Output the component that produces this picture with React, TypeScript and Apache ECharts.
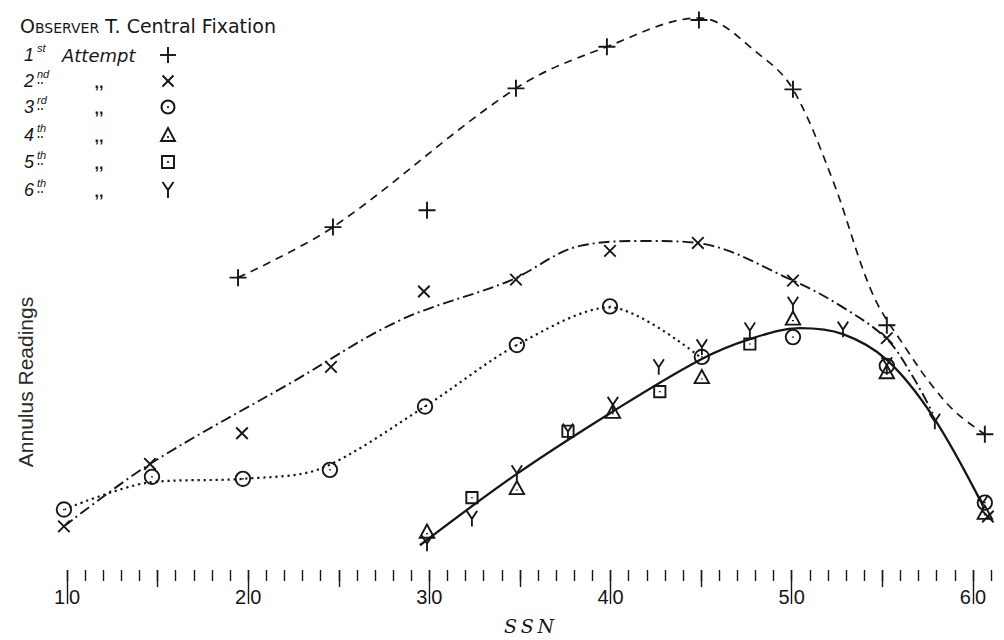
import { useEffect, useRef } from 'react';
import * as echarts from 'echarts';

const INK = '#161616';

// Axis values
const ssnMin = 10;
const ssnMax = 61;
const readingMin = 0;
const readingMax = 56;
const halfTicks = [15, 25, 35, 45, 55];
const decadeTicks = [10, 20, 30, 40, 50, 60];

// Plotted observations: [SSN, annulus reading]
const attempt1 = [[19.44, 29.5], [24.68, 34.6], [29.87, 36.3], [34.78, 48.6], [39.8, 52.8], [44.88, 55.5], [50.07, 48.5], [55.25, 24.7], [60.66, 13.7]];
const attempt2 = [[9.83, 4.4], [14.58, 10.7], [19.66, 13.8], [24.57, 20.5], [29.7, 28.1], [34.78, 29.3], [39.97, 32.2], [44.82, 33.0], [50.07, 29.2], [55.25, 23.4], [60.83, 5.4]];
const attempt3 = [[9.83, 6.1], [14.69, 9.4], [19.71, 9.2], [24.51, 10.1], [29.76, 16.5], [34.83, 22.7], [39.97, 26.6], [45.04, 21.5], [50.07, 23.5], [55.25, 20.6], [60.66, 6.8]];
const attempt4 = [[29.87, 3.9], [34.83, 8.3], [40.13, 16.0], [45.04, 19.5], [50.07, 25.4], [55.25, 20.0], [60.66, 5.8]];
const attempt5 = [[32.35, 7.3], [37.65, 14.0], [42.72, 18.0], [47.69, 22.8]];
const attempt6 = [[29.87, 2.7], [32.35, 5.2], [34.83, 9.8], [37.65, 14.0], [40.13, 16.7], [42.66, 20.5], [45.04, 22.5], [47.69, 24.2], [50.07, 26.8], [52.83, 24.3], [55.25, 20.7], [57.9, 15.0], [60.55, 6.8]];

// Hand-fitted curves drawn through the observations
const curve1 = [[19.44, 29.5], [24.68, 34.6], [34.78, 48.6], [39.8, 52.8], [44.88, 55.7], [48.36, 51.8], [50.07, 48.5], [52.27, 39.3], [54.48, 27.8], [56.36, 22.2], [57.79, 18.5], [59.12, 15.8], [60.66, 13.7]];
const curve2 = [[9.83, 4.4], [14.58, 10.7], [22.47, 19.0], [28.38, 25.2], [34.45, 29.2], [38.31, 32.7], [42.01, 33.2], [44.77, 33.0], [50.07, 29.2], [52.83, 26.5], [55.25, 23.3], [56.69, 19.5], [57.79, 15.8]];
const curve3 = [[9.83, 6.1], [14.42, 8.8], [19.71, 9.2], [23.96, 10.2], [29.76, 16.5], [34.83, 22.7], [39.97, 26.5], [44.93, 21.5]];
const curve6 = [[29.48, 2.5], [34.83, 9.7], [40.13, 16.0], [44.93, 21.2], [47.69, 23.3], [50.45, 24.4], [52.83, 23.8], [55.25, 21.2], [57.79, 15.5], [60.55, 6.5]];

// Legend texts
const titleCaps = ['O', 'BSERVER'];
const titleRest = 'T. Central Fixation';
const ordinals = ['1', '2', '3', '4', '5', '6'];
const suffixes = ['st', 'nd', 'rd', 'th', 'th', 'th'];
const attemptWord = 'Attempt';
const ditto = ',,';
const yName = 'Annulus Readings';
const xName = 'S\u2009S\u2009N';

// Marker outlines in a -1..1 box (the leading moves fix the box)
const SYM: Record<string, string> = {
  plus: 'path://M-1,-1M1,1M0,-1L0,1M-1,0L1,0',
  cross: 'path://M-1,-1M1,1M-0.72,-0.72L0.72,0.72M0.72,-0.72L-0.72,0.72',
  ring: 'path://M-1,-1M1,1M-0.85,0A0.85,0.85,0,1,1,0.85,0A0.85,0.85,0,1,1,-0.85,0ZM0,-0.07L0,0.07',
  tri: 'path://M-1,-1M1,1M0,-0.85L0.9,0.8L-0.9,0.8ZM0,0.22L0,0.36',
  square: 'path://M-1,-1M1,1M-0.75,-0.75L0.75,-0.75L0.75,0.75L-0.75,0.75ZM0,-0.07L0,0.07',
  wye: 'path://M-1,-1M1,1M-0.7,-0.95L0,0.05L0.7,-0.95M0,0.05L0,1',
};

function curveSeries(name: string, data: number[][], type: any, width: number, smooth: number) {
  return {
    type: 'line',
    name,
    data,
    symbol: 'none',
    showSymbol: false,
    smooth,
    silent: true,
    clip: false,
    z: 2,
    lineStyle: { color: INK, width, type, cap: 'butt' },
  };
}

function markSeries(name: string, data: number[][], symbol: string, size: number[]) {
  return {
    type: 'scatter',
    name,
    data,
    symbol,
    symbolSize: size,
    silent: true,
    clip: false,
    z: 5,
    itemStyle: { color: 'rgba(0,0,0,0)', borderColor: INK, borderWidth: 1.9, opacity: 1 },
  };
}

function legendMark(kind: string, cx: number, cy: number): any[] {
  const st = { stroke: INK, lineWidth: 1.9, fill: 'none' };
  const dot = (x: number, y: number) => ({ type: 'circle', shape: { cx: x, cy: y, r: 1.1 }, style: { fill: INK } });
  switch (kind) {
    case 'plus':
      return [
        { type: 'line', shape: { x1: cx - 8, y1: cy, x2: cx + 8, y2: cy }, style: st },
        { type: 'line', shape: { x1: cx, y1: cy - 8, x2: cx, y2: cy + 8 }, style: st },
      ];
    case 'cross':
      return [
        { type: 'line', shape: { x1: cx - 5.5, y1: cy - 5.5, x2: cx + 5.5, y2: cy + 5.5 }, style: st },
        { type: 'line', shape: { x1: cx + 5.5, y1: cy - 5.5, x2: cx - 5.5, y2: cy + 5.5 }, style: st },
      ];
    case 'ring':
      return [{ type: 'circle', shape: { cx, cy, r: 6.5 }, style: st }, dot(cx, cy)];
    case 'tri':
      return [
        { type: 'polygon', shape: { points: [[cx, cy - 7], [cx + 7, cy + 6], [cx - 7, cy + 6]] }, style: st },
        dot(cx, cy + 2),
      ];
    case 'square':
      return [{ type: 'rect', shape: { x: cx - 6, y: cy - 6, width: 12, height: 12 }, style: st }, dot(cx, cy)];
    default:
      return [
        { type: 'polyline', shape: { points: [[cx - 5.5, cy - 8], [cx, cy], [cx + 5.5, cy - 8]] }, style: st },
        { type: 'line', shape: { x1: cx, y1: cy, x2: cx, y2: cy + 8 }, style: st },
      ];
  }
}

export default function App() {
  const ref = useRef<HTMLDivElement>(null);

  useEffect(() => {
    if (!ref.current) return;
    const chart = echarts.init(ref.current, null, { renderer: 'svg' });

    const kinds = ['plus', 'cross', 'ring', 'tri', 'square', 'wye'];
    const rowY = [55, 81, 107, 135, 162, 190];
    const legend: any[] = [];

    legend.push({
      type: 'text',
      x: 20,
      y: 25,
      style: {
        text: `{o|${titleCaps[0]}}{sc|${titleCaps[1]}}{t| ${titleRest}}`,
        verticalAlign: 'middle',
        align: 'left',
        fill: INK,
        rich: {
          o: { fontFamily: 'DejaVu Sans', fontSize: 19, lineHeight: 20, verticalAlign: 'bottom', fill: INK },
          sc: { fontFamily: 'DejaVu Sans', fontSize: 14, lineHeight: 20, verticalAlign: 'bottom', fill: INK },
          t: { fontFamily: 'DejaVu Sans', fontSize: 19, lineHeight: 20, verticalAlign: 'bottom', fill: INK },
        },
      },
    });

    ordinals.forEach((n, i) => {
      const y = rowY[i];
      legend.push({
        type: 'text', x: 24, y,
        style: { text: n, fontFamily: 'Liberation Sans', fontStyle: 'italic', fontSize: 18, fill: INK, align: 'left', verticalAlign: 'middle' },
      });
      legend.push({
        type: 'text', x: 37, y: y - 7,
        style: { text: suffixes[i], fontFamily: 'Liberation Sans', fontStyle: 'italic', fontSize: 11, fill: INK, align: 'left', verticalAlign: 'middle' },
      });
      if (i > 0) {
        // two small dots beneath the raised suffix
        legend.push({ type: 'circle', shape: { cx: 38.5, cy: y + 2, r: 0.9 }, style: { fill: INK } });
        legend.push({ type: 'circle', shape: { cx: 42, cy: y + 2, r: 0.9 }, style: { fill: INK } });
        legend.push({
          type: 'text', x: 99, y: y + 1,
          style: { text: ditto, fontFamily: 'Liberation Sans', fontWeight: 'bold', fontSize: 16, fill: INK, align: 'center', verticalAlign: 'middle' },
        });
      } else {
        legend.push({
          type: 'text', x: 62, y,
          style: { text: attemptWord, fontFamily: 'DejaVu Sans', fontStyle: 'italic', fontSize: 18, fill: INK, align: 'left', verticalAlign: 'middle' },
        });
      }
      legend.push(...legendMark(kinds[i], 168, y));
    });

    legend.push({
      type: 'text',
      x: 25,
      y: 382,
      rotation: Math.PI / 2,
      style: { text: yName, fontFamily: 'Liberation Sans', fontSize: 21, fill: '#2a2a2a', align: 'center', verticalAlign: 'middle' },
    });

    const baseX = {
      type: 'value',
      min: ssnMin,
      max: ssnMax,
      position: 'bottom',
      axisLine: { show: false },
      splitLine: { show: false },
    };

    chart.setOption({
      animation: false,
      backgroundColor: '#ffffff',
      grid: { left: 67, right: 13, top: 15, bottom: 65, containLabel: false },
      xAxis: [
        {
          ...baseX,
          interval: 1,
          axisTick: { show: true, length: 11, lineStyle: { color: INK, width: 1.4 } },
          axisLabel: { show: false },
        },
        {
          ...baseX,
          axisTick: { show: true, length: 17, customValues: halfTicks, lineStyle: { color: INK, width: 1.4 } },
          axisLabel: { show: false },
        },
        {
          ...baseX,
          axisTick: { show: true, length: 34, customValues: decadeTicks, lineStyle: { color: INK, width: 1.4 } },
          axisLabel: {
            show: true,
            customValues: decadeTicks,
            formatter: (v: number) => String(v).split('').join('\u2009'),
            margin: 17,
            fontFamily: 'Liberation Sans',
            fontSize: 20,
            color: INK,
          },
          name: xName,
          nameLocation: 'middle',
          nameGap: 46,
          nameTextStyle: { fontFamily: 'DejaVu Serif', fontStyle: 'italic', fontSize: 19, color: INK },
        },
      ],
      yAxis: { type: 'value', min: readingMin, max: readingMax, show: false },
      graphic: legend,
      series: [
        curveSeries('1st curve', curve1, [8, 6], 1.7, 0.35),
        curveSeries('2nd curve', curve2, [11, 4, 2, 4], 1.9, 0.35),
        curveSeries('3rd curve', curve3, [2.2, 3.8], 2.2, 0.3),
        curveSeries('6th curve', curve6, 'solid', 2.3, 0.35),
        markSeries('1st Attempt', attempt1, SYM.plus, [17, 17]),
        markSeries('2nd', attempt2, SYM.cross, [16, 16]),
        markSeries('3rd', attempt3, SYM.ring, [17, 17]),
        markSeries('4th', attempt4, SYM.tri, [16, 16]),
        markSeries('5th', attempt5, SYM.square, [15, 15]),
        markSeries('6th', attempt6, SYM.wye, [15, 16]),
      ],
    });

    return () => chart.dispose();
  }, []);

  return (
    <div
      ref={ref}
      style={{ position: 'absolute', left: 0, top: 0, width: 1004, height: 640, background: '#ffffff' }}
    />
  );
}
